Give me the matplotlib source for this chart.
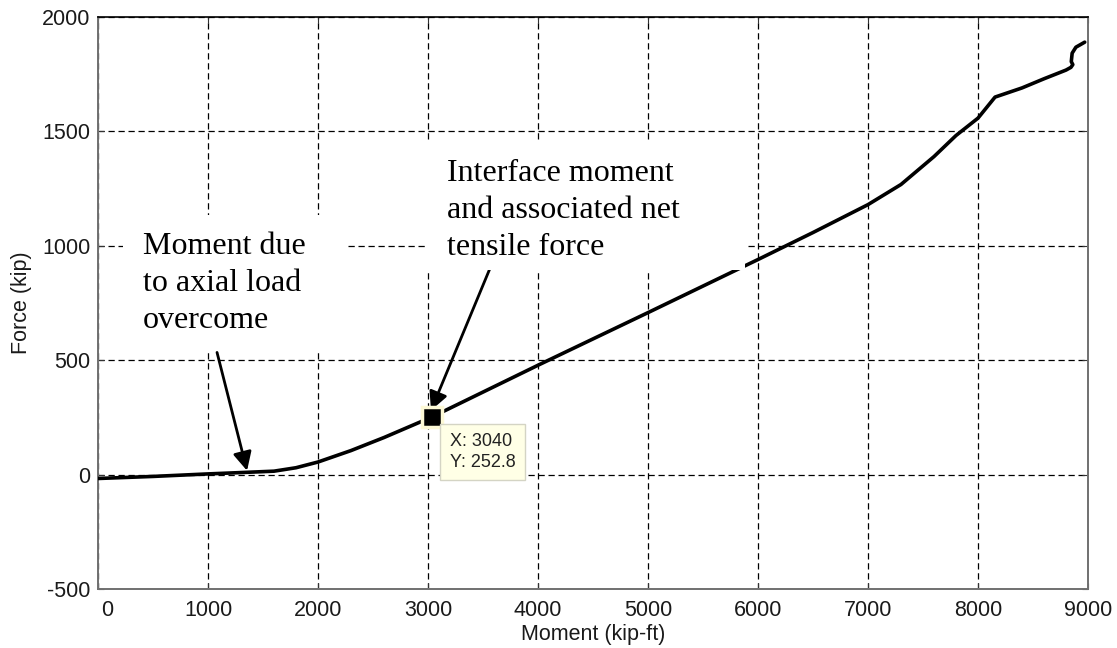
import matplotlib
matplotlib.use("Agg")
import matplotlib.pyplot as plt
from matplotlib.patches import Rectangle

# Moment vs. net tensile force at the interface
moment = [0, 500, 1000, 1355, 1600, 1800, 2000, 2300, 2600, 3040, 4000, 5000,
          6000, 6500, 7000, 7300, 7600, 7800, 8000, 8155, 8400, 8600, 8800,
          8845, 8862, 8848, 8856, 8890, 8970]
force = [-17, -8, 3, 10, 15, 30, 55, 105, 162, 252.8, 478, 708,
         940, 1058, 1180, 1268, 1390, 1482, 1558, 1650, 1690, 1730, 1768,
         1780, 1792, 1805, 1842, 1868, 1890]

tip_x, tip_y = 3040, 252.8

x_ticks = [0, 1000, 2000, 3000, 4000, 5000, 6000, 7000, 8000, 9000]
y_ticks = [-500, 0, 500, 1000, 1500, 2000]

W, H = 1117, 648
fig = plt.figure(figsize=(W / 100, H / 100), dpi=100)
ax = fig.add_axes([98 / W, 1 - 589 / H, 990 / W, 572 / H])

ax.set_xlim(0, 9000)
ax.set_ylim(-500, 2000)
ax.set_xticks(x_ticks)
ax.set_yticks(y_ticks)
# the "0" label is drawn separately, nudged inside the frame
ax.set_xticklabels(["" if v == 0 else str(v) for v in x_ticks])
ax.set_yticklabels([str(v) for v in y_ticks])

label_kw = dict(fontfamily="Liberation Sans", fontsize=15.5, color="#1a1a1a")
for lab in ax.get_xticklabels() + ax.get_yticklabels():
    lab.set_fontfamily(label_kw["fontfamily"])
    lab.set_fontsize(label_kw["fontsize"])
    lab.set_color(label_kw["color"])

x_pad_pt = 8
ax.tick_params(direction="in", length=4, width=0.8, top=True, right=True,
               color="#333333")
ax.tick_params(axis="y", pad=5.5)
ax.tick_params(axis="x", pad=x_pad_pt)
ax.annotate(str(x_ticks[0]), xy=(0, 0), xycoords="axes fraction",
            xytext=(9 * 0.72, -x_pad_pt), textcoords="offset points",
            ha="center", va="top", **label_kw)

ax.grid(True, color="black", linestyle=(0, (5, 3)), linewidth=0.9)
ax.set_axisbelow(True)

for side in ["left", "bottom", "right"]:
    ax.spines[side].set_color("#707070")
    ax.spines[side].set_linewidth(1.4)
ax.spines["top"].set_color("black")
ax.spines["top"].set_linewidth(1.2)

ax.plot(moment, force, color="black", linewidth=2.6, zorder=3,
        solid_capstyle="round", solid_joinstyle="round")

ax.set_xlabel("Moment (kip-ft)", labelpad=2, **label_kw)
ax.set_ylabel("Force (kip)", labelpad=7, **label_kw)

# white panels behind the callout text
for (x0, y0, x1, y1) in [(123, 215, 346, 350), (425, 143, 745, 270)]:
    fig.patches.append(Rectangle((x0 / W, 1 - y1 / H), (x1 - x0) / W, (y1 - y0) / H,
                                 transform=fig.transFigure, facecolor="white",
                                 edgecolor="none", zorder=4))

serif = dict(family="Liberation Serif", size=23, color="black", linespacing=1.36)
fig.text(143 / W, 1 - 232 / H, "Moment due\nto axial load\novercome",
         ha="left", va="top", zorder=6, **serif)
fig.text(447 / W, 1 - 159 / H, "Interface moment\nand associated net\ntensile force",
         ha="left", va="top", zorder=6, **serif)

arrow = dict(arrowstyle="-|>", color="black", lw=2.0, mutation_scale=28,
             shrinkA=0, shrinkB=0)
ax.annotate("", xy=(1355, 17), xytext=(1082, 534), arrowprops=arrow, zorder=7)
ax.annotate("", xy=(3027, 280), xytext=(3564, 902), arrowprops=arrow, zorder=7)

# data tip marker and box
ax.plot([tip_x], [tip_y], marker="s", markersize=14, markerfacecolor="black",
        markeredgecolor="#fdf9d6", markeredgewidth=2.5, zorder=8, clip_on=False)
fig.patches.append(Rectangle((440 / W, 1 - 480 / H), 85 / W, 56 / H,
                             transform=fig.transFigure, facecolor="#ffffe6",
                             edgecolor="#d4d4c4", linewidth=1.0, zorder=5))
fig.text(450 / W, 1 - 433 / H, f"X: {tip_x}\nY: {tip_y}", ha="left", va="top",
         fontfamily="Liberation Sans", fontsize=13, color="#222222",
         linespacing=1.3, zorder=6)

fig.savefig("out.png", dpi=100, facecolor="white")
